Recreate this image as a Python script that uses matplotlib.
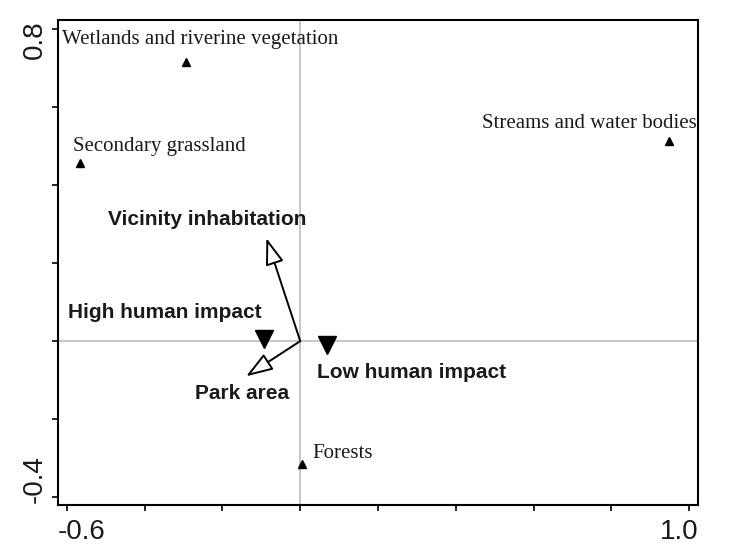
import matplotlib
matplotlib.use("Agg")
import matplotlib.pyplot as plt
import matplotlib.transforms as mtransforms

# habitat types (up triangles)
habitat_names = ["Wetlands and riverine vegetation", "Secondary grassland",
                 "Streams and water bodies", "Forests"]
habitat_x = [-0.293, -0.566, 0.949, 0.005]
habitat_y = [0.715, 0.456, 0.513, -0.315]

# site groups (down triangles)
group_names = ["High human impact", "Low human impact"]
group_x = [-0.093, 0.069]
group_y = [0.005, -0.010]

# environmental variables (arrows)
var_names = ["Vicinity inhabitation", "Park area"]
var_x = [-0.087, -0.139]
var_y = [0.264, -0.090]

xticks = [-0.6, -0.4, -0.2, 0.0, 0.2, 0.4, 0.6, 0.8, 1.0]
yticks = [-0.4, -0.2, 0.0, 0.2, 0.4, 0.6, 0.8]

fig = plt.figure(figsize=(7.51, 5.56), dpi=100)
ax = fig.add_axes([58 / 751, 1 - 505 / 556, 640 / 751, 485 / 556])

ax.axhline(0, color="#bdbdbd", lw=1.2, zorder=1)
ax.axvline(0, color="#bdbdbd", lw=1.2, zorder=1)

ax.plot(habitat_x, habitat_y, "^", color="black", ms=6, zorder=3)
ax.plot(group_x, group_y, "v", color="black", ms=13, zorder=3)

for vx, vy in zip(var_x, var_y):
    ax.annotate("", xy=(vx, vy), xytext=(0, 0),
                arrowprops=dict(arrowstyle="-|>,head_length=0.55,head_width=0.19",
                                fc="white", ec="black", lw=1.4,
                                mutation_scale=30, shrinkA=0, shrinkB=0),
                zorder=4)

serif = dict(family="Liberation Serif", fontsize=15, color="#1a1a1a", va="baseline")
bold = dict(family="Liberation Sans", fontsize=15, fontweight="bold",
            color="#1a1a1a", va="baseline")

# habitat labels
ax.text(-0.612, 0.762, habitat_names[0], ha="left", **serif)
ax.text(-0.584, 0.487, habitat_names[1], ha="left", **serif)
ax.text(1.021, 0.546, habitat_names[2], ha="right", **serif)
ax.text(0.031, -0.300, habitat_names[3], ha="left", **serif)

# group labels
ax.text(-0.596, 0.059, group_names[0], ha="left", **bold)
ax.text(0.044, -0.095, group_names[1], ha="left", **bold)

# variable labels
ax.text(-0.494, 0.297, var_names[0], ha="left", **bold)
ax.text(-0.270, -0.149, var_names[1], ha="left", **bold)

ax.set_xlim(-0.623, 1.023)
ax.set_ylim(-0.42, 0.823)
ax.set_xticks(xticks)
ax.set_yticks(yticks)
ax.set_xticklabels(["-0.6"] + [""] * 7 + ["1.0"])
ax.set_yticklabels(["-0.4"] + [""] * 5 + ["0.8"], rotation=90)
ax.tick_params(length=4, width=1.2, labelsize=20, color="black", labelcolor="#1a1a1a")
ax.tick_params(axis="x", pad=6)
for lab in ax.get_xticklabels() + ax.get_yticklabels():
    lab.set_family("Liberation Sans")

# end labels sit inside the frame edges, as in the original plot
def shift(lab, dx, dy):
    lab.set_transform(lab.get_transform() +
                      mtransforms.ScaledTranslation(dx / 100, dy / 100, fig.dpi_scale_trans))

xl = ax.get_xticklabels()
xl[0].set_ha("left")
shift(xl[0], -9, 0)
xl[-1].set_ha("right")
shift(xl[-1], 9, 0)
yl = ax.get_yticklabels()
yl[0].set_va("bottom")
shift(yl[0], 0, -6)
yl[-1].set_va("top")
shift(yl[-1], 0, 9)

for s in ax.spines.values():
    s.set_linewidth(1.5)

fig.savefig("out.png", dpi=100)
